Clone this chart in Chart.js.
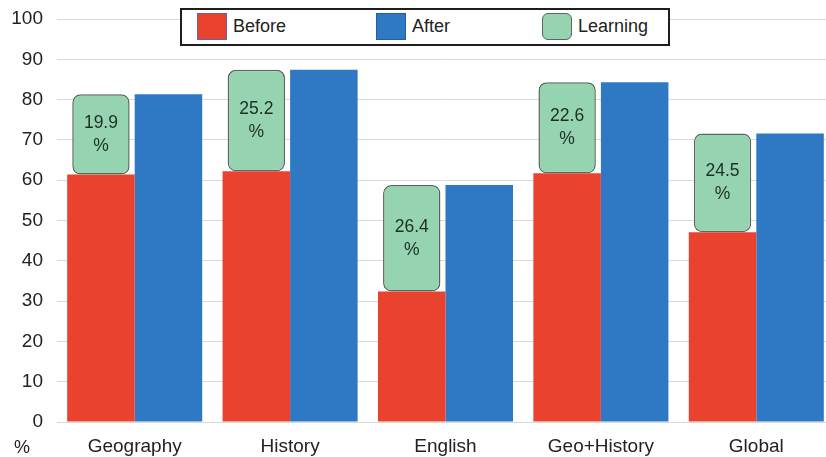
<!DOCTYPE html>
<html>
<head>
<meta charset="utf-8">
<script src="https://cdn.jsdelivr.net/npm/chart.js@4/dist/chart.umd.min.js"></script>
<style>
  html, body { margin: 0; padding: 0; background: #fff; overflow: hidden; }
  #wrap { position: relative; width: 834px; height: 457px; }
  #legend {
    position: absolute; left: 180px; top: 8px; width: 486px; height: 34px;
    border: 2px solid #1e1e1e; background: #fff;
    font: 18px "Liberation Sans", Arial, sans-serif; color: #222;
  }
  .item { position: absolute; top: 3px; height: 27px; line-height: 27px; }
  .swatch { position: absolute; left: 0; top: 0; width: 30px; height: 27px; box-sizing: border-box; }
  .item span.txt { position: absolute; left: 36px; top: 0; white-space: nowrap; }
  #unit {
    position: absolute; left: 14px; top: 437px;
    font: 18px "Liberation Sans", Arial, sans-serif; color: #222;
  }
</style>
</head>
<body>
<div id="wrap">
  <canvas id="chart" width="834" height="457"></canvas>
  <div id="legend"></div>
  <div id="unit">%</div>
</div>
<script>
// Subjects and scores (percent)
const subjects = ["Geography", "History", "English", "Geo+History", "Global"];
const before   = [61.4, 62.2, 32.4, 61.7, 47.1];
const after    = [81.3, 87.4, 58.8, 84.3, 71.6];
const learning = [19.9, 25.2, 26.4, 22.6, 24.5];
const yTicks   = [0, 10, 20, 30, 40, 50, 60, 70, 80, 90, 100];

const RED = "#e9432f";
const BLUE = "#2f79c4";
const MINT = "#95d3b1";
const MINT_EDGE = "#56695c";
const FONT = "'Liberation Sans', Arial, sans-serif";

// Learning gain drawn as a floating box from the "before" score upward
const learningSpans = before.map((b, i) => [b, +(b + learning[i]).toFixed(1)]);

// Writes "xx.x" and "%" in the middle of each learning box
const gainLabels = {
  id: "gainLabels",
  afterDatasetsDraw(chart) {
    const meta = chart.getDatasetMeta(2);
    const ctx = chart.ctx;
    ctx.save();
    ctx.font = "17.5px " + FONT;
    ctx.fillStyle = "#1b3024";
    ctx.textAlign = "center";
    ctx.textBaseline = "middle";
    meta.data.forEach((el, i) => {
      const cy = (el.y + el.base) / 2;
      ctx.fillText(learning[i].toFixed(1), el.x, cy - 11.5);
      ctx.fillText("%", el.x, cy + 11.5);
    });
    ctx.restore();
  }
};

const chart = new Chart(document.getElementById("chart"), {
  type: "bar",
  data: {
    labels: subjects,
    datasets: [
      { label: "Before", data: before, backgroundColor: RED, stack: "pre",
        categoryPercentage: 0.869, barPercentage: 1.0, borderWidth: 0 },
      { label: "After", data: after, backgroundColor: BLUE, stack: "post",
        categoryPercentage: 0.869, barPercentage: 1.0, borderWidth: 0 },
      { label: "Learning", data: learningSpans, backgroundColor: MINT, stack: "pre",
        categoryPercentage: 0.869, barPercentage: 0.85, order: -1,
        borderColor: MINT_EDGE, borderWidth: 1.5, borderRadius: 8, borderSkipped: false }
    ]
  },
  options: {
    responsive: false,
    animation: false,
    devicePixelRatio: 1,
    layout: { padding: { top: 19, right: 0, bottom: 0, left: 0 } },
    plugins: { legend: { display: false }, tooltip: { enabled: false } },
    scales: {
      x: {
        grid: { display: false, drawTicks: false },
        border: { display: false },
        ticks: { font: { family: FONT, size: 19 }, color: "#222", padding: 13 },
        afterFit(scale) { scale.height = 35; }
      },
      y: {
        stacked: false,
        min: 0, max: 100,
        afterBuildTicks(scale) { scale.ticks = yTicks.map(v => ({ value: v })); },
        grid: { color: "#d9d9d9", lineWidth: 1, drawTicks: false },
        border: { display: false },
        ticks: { font: { family: FONT, size: 19 }, color: "#222", padding: 14 },
        afterFit(scale) {
          scale.width = 57;
          scale.paddingTop = 0;
          scale.paddingBottom = 0;
        }
      }
    }
  },
  plugins: [gainLabels]
});

// Legend built from the chart's datasets
const legendEl = document.getElementById("legend");
const legendX = [15, 194, 360];
chart.data.datasets.forEach((ds, i) => {
  const item = document.createElement("div");
  item.className = "item";
  item.style.left = legendX[i] + "px";
  const sw = document.createElement("div");
  sw.className = "swatch";
  sw.style.background = ds.backgroundColor;
  if (i === 2) {
    sw.style.borderRadius = "6px";
    sw.style.border = "1.5px solid " + MINT_EDGE;
  } else {
    sw.style.border = "1px solid " + (i === 0 ? "#6a5fa8" : "#245f9c");
  }
  const tx = document.createElement("span");
  tx.className = "txt";
  tx.textContent = ds.label;
  item.appendChild(sw);
  item.appendChild(tx);
  legendEl.appendChild(item);
});
</script>
</body>
</html>
